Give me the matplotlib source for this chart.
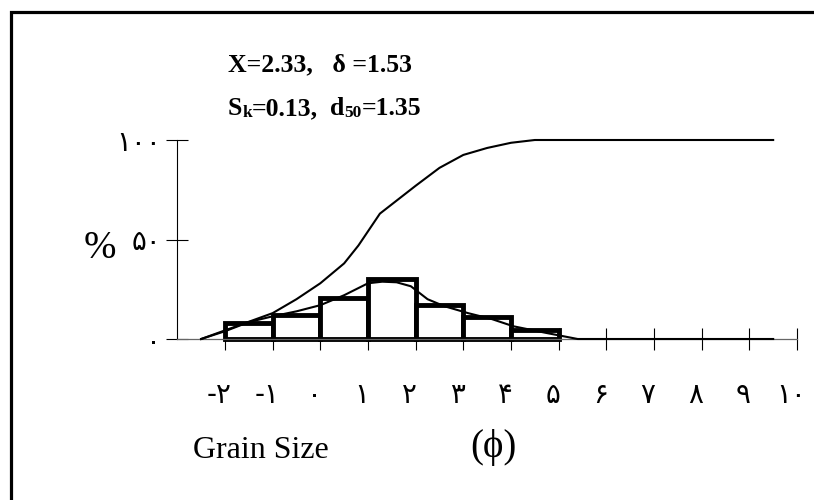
import matplotlib
matplotlib.use("Agg")
import matplotlib.pyplot as plt
import matplotlib.transforms as mtrans
from matplotlib.patches import Rectangle

# ---------------- data ----------------
bin_left = [-2, -1, 0, 1, 2, 3, 4]
freq_pct = [8, 12, 20.5, 30, 17, 11, 4.5]

freq_x = [-2.5, -2, -1.5, -1, -0.5, 0, 0.5, 1, 1.3, 1.6, 1.9, 2.25, 2.6, 3.1, 3.6, 4.05, 4.75, 5.4, 9.5]
freq_y = [0, 3.9, 8.5, 11.4, 13.9, 17, 22, 28, 28.8, 28.5, 26.5, 20, 16.5, 13, 10, 6.4, 3, 0, 0]

cum_x = [-2.5, -1.0, -0.5, 0.0, 0.5, 0.8, 1.25, 2.0, 2.5, 3.0, 3.5, 4.0, 4.5, 9.5]
cum_y = [0, 13, 20, 28, 38, 47, 63, 77, 86, 92.5, 96, 98.6, 100, 100]

x_ticks = [-2, -1, 0, 1, 2, 3, 4, 5, 6, 7, 8, 9, 10]
x_tick_labels = ["-۲", "-۱", "۰", "۱", "۲", "۳", "۴", "۵", "۶", "۷", "۸", "۹", "۱۰"]
y_ticks = [0, 50, 100]
y_tick_labels = ["۰", "۵۰", "۱۰۰"]

W, H = 814, 500
fig = plt.figure(figsize=(W / 100, H / 100), dpi=100)

# axes placement (pixels)
ax_l, ax_r = 163.0, 811.3
ax_t, ax_b = 130.05, 348.95
ax = fig.add_axes([ax_l / W, 1 - ax_b / H, (ax_r - ax_l) / W, (ax_b - ax_t) / H])
ax.set_xlim(-3.3, 10.3)
ax.set_ylim(-5, 105)
ax.patch.set_visible(False)

# histogram
ax.bar(bin_left, freq_pct, width=1.0, align="edge", facecolor="white",
       edgecolor="black", linewidth=3.5, zorder=2)
# frequency curve and cumulative curve
ax.plot(freq_x, freq_y, color="black", linewidth=1.5, zorder=3)
ax.plot(cum_x, cum_y, color="black", linewidth=1.5, zorder=3)

# axes styling
for s in ["top", "right"]:
    ax.spines[s].set_visible(False)
ax.spines["left"].set_position(("data", -3))
ax.spines["left"].set_bounds(0, 100)
ax.spines["left"].set_linewidth(0.8)
ax.spines["bottom"].set_position(("data", 0))
ax.spines["bottom"].set_bounds(-3, 10)
ax.spines["bottom"].set_linewidth(0.9)
ax.spines["bottom"].set_color("#666666")

ax.set_xticks(x_ticks)
ax.set_xticklabels(x_tick_labels, fontsize=20, family=["DejaVu Sans"])
ax.set_yticks(y_ticks)
ax.set_yticklabels(y_tick_labels, fontsize=20, family=["DejaVu Sans"])
ax.tick_params(axis="both", direction="inout", length=15.8, width=0.8, color="black")
ax.tick_params(axis="x", pad=22)
ax.tick_params(axis="y", pad=3.6)

off = mtrans.ScaledTranslation(-0.06, 0, fig.dpi_scale_trans)
for lab in ax.get_xticklabels():
    lab.set_transform(lab.get_transform() + off)

# frame (only top and left visible in the reference)
fig.add_artist(Rectangle((10.5 / W, -0.1), 1.2, 1 - 11.5 / H + 0.1,
                         transform=fig.transFigure, fill=False,
                         linewidth=2.3, edgecolor="black"))

serif = ["Liberation Serif", "DejaVu Serif"]

def fx(px):
    return px / W

def fy(py):
    return 1 - py / H

# line 1 of statistics
fig.text(fx(228), fy(71), "X=2.33,   δ =1.53", fontsize=18.5, fontweight="bold",
         family=serif, ha="left", va="baseline")

# line 2 with subscripts, laid out piece by piece
renderer = fig.canvas.get_renderer()
pieces = [("S", 18.5, 0, 0), ("k", 12.5, 2, 0), ("=0.13,", 18.5, 0, 12),
          ("d", 18.5, 0, 0), ("50", 12.5, 2, 0), ("=1.35", 18.5, 0, 0)]
x = 228.0
for s, size, dy, gap in pieces:
    t = fig.text(fx(x), fy(115 + dy), s, fontsize=size, fontweight="bold",
                 family=serif, ha="left", va="baseline")
    bb = t.get_window_extent(renderer)
    x += bb.width + gap

# axis labels
fig.text(fx(100), fy(248), "%", fontsize=28, family=serif, ha="center", va="center")
fig.text(fx(193), fy(458), "Grain Size", fontsize=23, family=serif, ha="left", va="baseline")
fig.text(fx(493), fy(447), "(ϕ)", fontsize=28, family=serif, ha="center", va="center")

fig.savefig("out.png", dpi=100)
